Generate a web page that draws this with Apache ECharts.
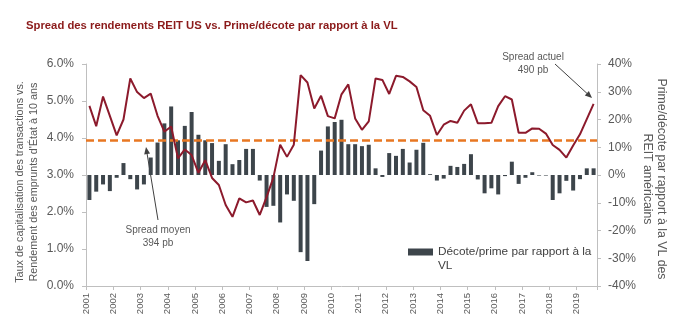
<!DOCTYPE html>
<html>
<head>
<meta charset="utf-8">
<script src="https://cdn.jsdelivr.net/npm/echarts@6/dist/echarts.min.js"></script>
<style>html,body{margin:0;padding:0;background:#fff;}#c{width:680px;height:324px;}</style>
</head>
<body>
<div id="c"></div>
<script>
// Quarterly categories 2001 Q1 .. 2019 Q3
const quarters = [];
for (let y = 2001; y <= 2019; y++) for (let q = 1; q <= 4; q++) if (quarters.length < 75) quarters.push(y + ' T' + q);

// Spread (%), left axis
const spread = [4.87,4.32,5.12,4.60,4.07,4.50,5.61,5.24,5.08,5.20,4.60,4.17,4.31,3.45,3.69,3.54,3.06,3.40,2.92,2.73,
  2.19,1.87,2.37,2.26,2.31,1.92,2.40,2.93,3.82,3.49,3.82,5.70,5.50,4.80,5.14,4.59,4.53,5.18,5.45,4.53,
  4.22,4.45,5.61,5.57,5.19,5.68,5.65,5.53,5.38,4.75,4.60,4.08,4.36,4.46,4.41,4.74,4.91,4.40,4.40,4.41,
  4.86,5.13,5.04,4.14,4.14,4.26,4.25,4.12,3.81,3.68,3.47,3.80,4.10,4.51,4.92];

// Premium / discount to NAV (%), right axis
const premium = [-9.0,-6.0,-3.4,-5.8,-1.0,4.3,-1.5,-5.2,-3.4,6.3,11.7,18.6,24.7,12.5,17.7,22.7,14.5,12.5,11.5,5.1,
  11.1,3.9,5.4,9.4,9.4,-2.0,-11.5,-11.1,-17.1,-7.0,-9.3,-27.8,-31.0,-10.5,8.8,17.5,19.1,19.9,11.1,11.1,
  10.4,10.9,2.4,-0.7,7.9,6.9,9.4,4.5,9.1,11.6,0.3,-2.0,-1.3,3.3,2.9,4.0,7.5,-1.6,-6.6,-4.8,
  -7.0,-0.4,4.8,-3.2,-1.0,1.0,-0.2,-0.2,-9.0,-6.6,-2.1,-5.6,-1.5,2.4,2.4];

const averageSpread = 3.94;
const leftTicks = {min: 0, max: 6, interval: 1};
const rightTicks = {min: -40, max: 40, interval: 10};
const yearAxis = {min: 2001, max: 2019.75, interval: 1};

const title = 'Spread des rendements REIT US vs. Prime/décote par rapport à la VL';
const barName = 'Décote/prime par rapport à la VL';
const leftName = 'Taux de capitalisation des transactions vs.\nRendement des emprunts d\'État à 10 ans';
const rightName = 'Prime/décote par rapport à la VL des\nREIT américains';
const noteAvg = 'Spread moyen\n394 pb';
const noteCur = 'Spread actuel\n490 pb';

const FONT = '"Liberation Sans", Arial, sans-serif';
const GRAY = '#595959';
const AXIS = '#bfbfbf';

function arrow(x1, y1, x2, y2) {
  const dx = x2 - x1, dy = y2 - y1, L = Math.sqrt(dx*dx + dy*dy);
  const ux = dx / L, uy = dy / L, px = -uy, py = ux;
  const h = 7, w = 3;
  return [
    {type: 'line', shape: {x1: x1, y1: y1, x2: x2 - ux*h*0.6, y2: y2 - uy*h*0.6}, style: {stroke: '#404040', lineWidth: 1}},
    {type: 'polygon', shape: {points: [[x2, y2], [x2 - ux*h + px*w, y2 - uy*h + py*w], [x2 - ux*h - px*w, y2 - uy*h - py*w]]}, style: {fill: '#404040'}}
  ];
}

const chart = echarts.init(document.getElementById('c'), null, {renderer: 'canvas'});
chart.setOption({
  animation: false,
  backgroundColor: '#fff',
  textStyle: {fontFamily: FONT},
  title: {text: title, left: 21, top: 15, textStyle: {fontSize: 11.3, fontWeight: 'bold', color: '#8b1a1a', fontFamily: FONT}},
  grid: {left: 86, right: 83, top: 64, bottom: 38, containLabel: false, outerBoundsMode: 'none'},
  legend: {
    data: [barName], left: 408, top: 244, padding: 0, itemWidth: 25, itemHeight: 30, itemGap: 0,
    icon: 'path://M0,0M0,30M0,4.5H25V11.5H0Z', symbolKeepAspect: false,
    textStyle: {fontSize: 11.8, color: '#404040', fontFamily: FONT, width: 168, overflow: 'break', lineHeight: 14}
  },
  xAxis: [
    {type: 'category', data: quarters, boundaryGap: true, show: false},
    {type: 'value', min: yearAxis.min, max: yearAxis.max, interval: yearAxis.interval, position: 'bottom',
     axisLine: {show: true, onZero: false, lineStyle: {color: AXIS}}, axisTick: {show: true, length: 4, lineStyle: {color: AXIS}},
     splitLine: {show: false},
     axisLabel: {rotate: 90, margin: 7, fontSize: 9.5, color: GRAY, fontFamily: FONT,
       formatter: v => (Math.abs(v - Math.round(v)) < 1e-6 ? String(Math.round(v)) : '')}}
  ],
  yAxis: [
    {type: 'value', position: 'left', min: leftTicks.min, max: leftTicks.max, interval: leftTicks.interval,
     name: leftName, nameLocation: 'middle', nameRotate: 90, nameGap: 45, nameMoveOverlap: false,
     nameTextStyle: {fontSize: 10.8, color: GRAY, lineHeight: 14, fontFamily: FONT, padding: [0, 14, 0, 0]},
     axisLine: {show: true, lineStyle: {color: AXIS}}, axisTick: {show: true, length: 4, lineStyle: {color: AXIS}},
     splitLine: {show: false},
     axisLabel: {fontSize: 12, color: GRAY, margin: 12, fontFamily: FONT, formatter: v => v.toFixed(1) + '%'}},
    {type: 'value', position: 'right', min: rightTicks.min, max: rightTicks.max, interval: rightTicks.interval,
     name: rightName, nameLocation: 'middle', nameRotate: -90, nameGap: 43, nameMoveOverlap: false,
     nameTextStyle: {fontSize: 12.3, color: GRAY, lineHeight: 14, fontFamily: FONT, padding: [0, 0, 0, 8]},
     axisLine: {show: true, lineStyle: {color: AXIS}}, axisTick: {show: true, length: 4, lineStyle: {color: AXIS}},
     splitLine: {show: false},
     axisLabel: {fontSize: 12, color: GRAY, margin: 11, align: 'left', fontFamily: FONT, formatter: v => v + '%'}}
  ],
  series: [
    {name: barName, type: 'bar', xAxisIndex: 0, yAxisIndex: 1, data: premium, barWidth: 4,
     itemStyle: {color: '#3d454b'}, z: 2},
    {name: 'Spread', type: 'line', xAxisIndex: 0, yAxisIndex: 0, data: spread, symbol: 'none',
     lineStyle: {color: '#8c1a2c', width: 2}, itemStyle: {color: '#8c1a2c'}, z: 4,
     markLine: {silent: true, symbol: 'none', label: {show: false}, z: 3,
       lineStyle: {color: '#e87722', width: 2.5, type: [8, 4]},
       data: [{yAxis: averageSpread}]}}
  ],
  graphic: [
    {type: 'text', left: 158 - 35, top: 224, style: {text: noteAvg, fill: GRAY, font: '10px ' + FONT, textAlign: 'center', lineHeight: 13, width: 70}},
    {type: 'text', left: 533 - 36, top: 51, style: {text: noteCur, fill: GRAY, font: '10px ' + FONT, textAlign: 'center', lineHeight: 13, width: 72}}
  ].concat(arrow(158, 220, 146, 147)).concat(arrow(555, 64, 592, 98))
});
</script>
</body>
</html>
